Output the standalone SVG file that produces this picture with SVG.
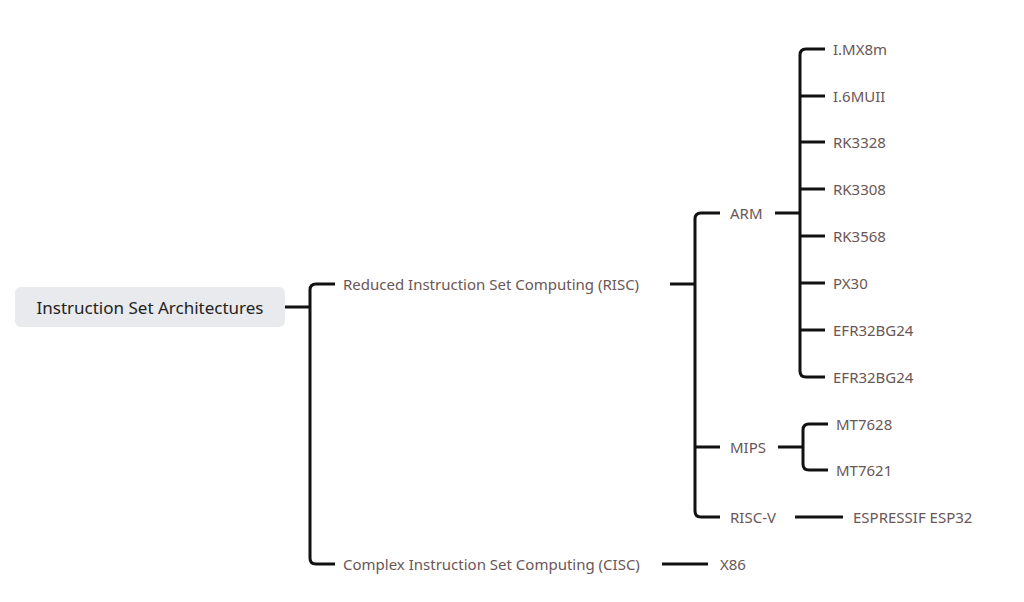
<svg xmlns="http://www.w3.org/2000/svg" width="1024" height="602" viewBox="0 0 1024 602">
<style>
.c{fill:none;stroke:#111;stroke-width:3;stroke-linejoin:round}
.t{font-family:"Noto Sans","Liberation Sans",sans-serif;font-size:15px;fill:#6a5656;dominant-baseline:central}
</style>
<rect width="1024" height="602" fill="#fff"/>
<g id="connectors">
<path class="c" d="M285 307H310M335 284H316Q310 284 310 290V558Q310 564 316 564H335"/>
<path class="c" d="M670 284H695M720 213H701Q695 213 695 219V511Q695 517 701 517H720M695 447H720"/>
<path class="c" d="M775 213H800M825 49H806Q800 49 800 55V371Q800 377 806 377H825M800 96H825M800 142H825M800 189H825M800 236H825M800 283H825M800 330H825"/>
<path class="c" d="M778 447H803M828 424H809Q803 424 803 430V464Q803 470 809 470H828"/>
<path class="c" d="M795 517H843M662 564H708"/>
</g>
<g id="root"><rect x="15" y="287" width="270" height="40" rx="6" fill="#e9eaed"/><text x="150" y="307" text-anchor="middle" style="font-family:'Noto Sans','Liberation Sans',sans-serif;font-size:17px;fill:#222;dominant-baseline:central">Instruction Set Architectures</text></g>
<g id="risc"><text class="t" x="343" y="284">Reduced Instruction Set Computing (RISC)</text></g>
<g id="cisc"><text class="t" x="343" y="564">Complex Instruction Set Computing (CISC)</text></g>
<g id="arm"><text class="t" x="730" y="213">ARM</text></g>
<g id="mips"><text class="t" x="730" y="447">MIPS</text></g>
<g id="riscv"><text class="t" x="730" y="517">RISC-V</text></g>
<g id="x86"><text class="t" x="720" y="564">X86</text></g>
<g id="imx8m"><text class="t" x="833" y="49">I.MX8m</text></g>
<g id="i6muii"><text class="t" x="833" y="96">I.6MUII</text></g>
<g id="rk3328"><text class="t" x="833" y="142">RK3328</text></g>
<g id="rk3308"><text class="t" x="833" y="189">RK3308</text></g>
<g id="rk3568"><text class="t" x="833" y="236">RK3568</text></g>
<g id="px30"><text class="t" x="833" y="283">PX30</text></g>
<g id="efr1"><text class="t" x="833" y="330">EFR32BG24</text></g>
<g id="efr2"><text class="t" x="833" y="377">EFR32BG24</text></g>
<g id="mt7628"><text class="t" x="836" y="424">MT7628</text></g>
<g id="mt7621"><text class="t" x="836" y="470">MT7621</text></g>
<g id="esp32"><text class="t" x="853" y="517">ESPRESSIF ESP32</text></g>
</svg>
